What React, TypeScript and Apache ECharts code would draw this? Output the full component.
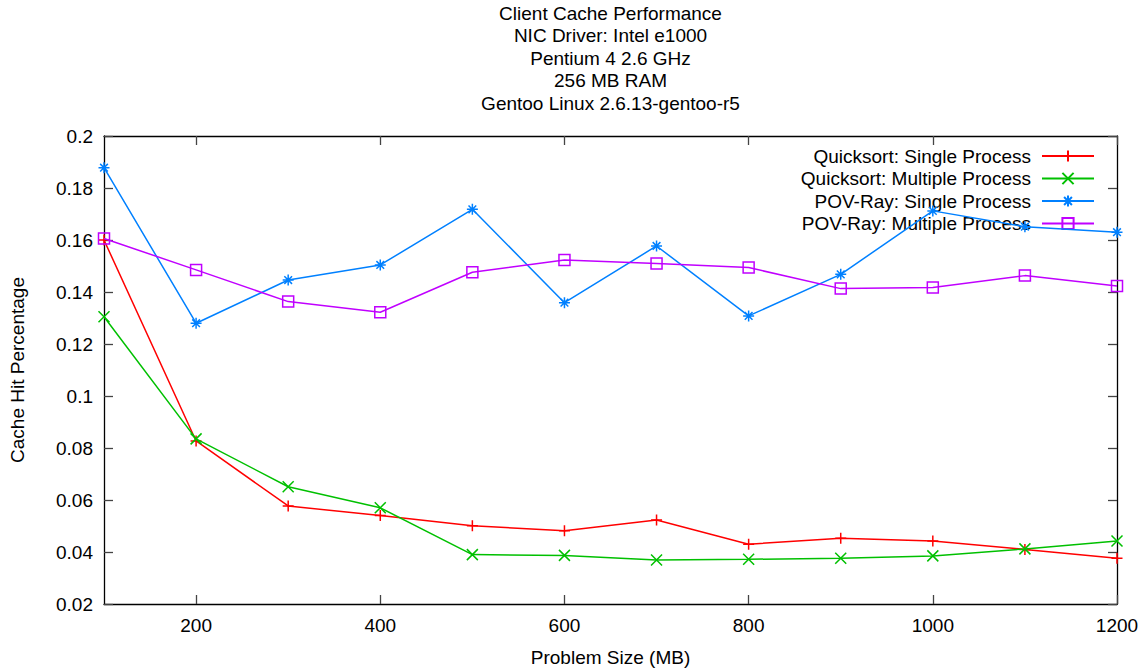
import React, { useEffect, useRef } from "react";
import * as echarts from "echarts";

const titleLines = [
  "Client Cache Performance",
  "NIC Driver: Intel e1000",
  "Pentium 4 2.6 GHz",
  "256 MB RAM",
  "Gentoo Linux 2.6.13-gentoo-r5",
];
const xName = "Problem Size (MB)";
const yName = "Cache Hit Percentage";

const problemSizes = [100, 200, 300, 400, 500, 600, 700, 800, 900, 1000, 1100, 1200];
const xTickValues = [200, 400, 600, 800, 1000, 1200];

const seriesNames = [
  "Quicksort: Single Process",
  "Quicksort: Multiple Process",
  "POV-Ray: Single Process",
  "POV-Ray: Multiple Process",
];
const quicksortSingle = [0.16, 0.0827, 0.0577, 0.054, 0.0501, 0.0482, 0.0523, 0.043, 0.0453, 0.0442, 0.041, 0.0376];
const quicksortMultiple = [0.1305, 0.0835, 0.0651, 0.057, 0.039, 0.0387, 0.0369, 0.0372, 0.0376, 0.0385, 0.0412, 0.0442];
const povraySingle = [0.1878, 0.128, 0.1446, 0.1504, 0.1718, 0.1359, 0.1577, 0.1308, 0.1468, 0.1712, 0.1651, 0.163];
const povrayMultiple = [0.1606, 0.1485, 0.1363, 0.1322, 0.1476, 0.1523, 0.151, 0.1494, 0.1413, 0.1417, 0.1463, 0.1423];

const FONT = "'Liberation Sans', Arial, Helvetica, sans-serif";
const colors = ["#ff0000", "#00c000", "#0080ff", "#c000ff"];
const symbols = [
  "path://M5,0 L5,10 M0,5 L10,5",
  "path://M0,0 L10,10 M10,0 L0,10",
  "path://M5,0 L5,10 M0,5 L10,5 M1.5,1.5 L8.5,8.5 M8.5,1.5 L1.5,8.5",
  "rect",
];

export default function App() {
  const ref = useRef<HTMLDivElement>(null);
  useEffect(() => {
    if (!ref.current) return;
    const chart = echarts.init(ref.current, null, { renderer: "svg" });
    const dataSets = [quicksortSingle, quicksortMultiple, povraySingle, povrayMultiple];
    const grid = { left: 104, top: 136, right: 29, bottom: 68 };
    const axisLineStyle = { color: "#000", width: 1.3 };
    const tickStyle = { color: "#444", width: 1.3 };
    const legendCenters = [156, 178.5, 201, 223.5];

    const option: any = {
      animation: false,
      backgroundColor: "#fff",
      grid: { ...grid, containLabel: false },
      graphic: [
        {
          type: "text",
          x: (grid.left + (1146 - grid.right)) / 2,
          y: 2,
          style: {
            text: titleLines.join("\n"),
            textAlign: "center",
            textVerticalAlign: "top",
            font: `19px ${FONT}`,
            lineHeight: 22.5,
            fill: "#000",
          },
        },
      ],
      legend: seriesNames.map((n, i) => ({
        data: [n],
        right: 51,
        top: legendCenters[i] - 10,
        padding: 0,
        align: "right",
        itemWidth: 52,
        itemHeight: 14,
        selectedMode: false,
        textStyle: { fontFamily: FONT, fontSize: 19, color: "#000", lineHeight: 20, padding: [0, 6, 0, 0] },
      })),
      xAxis: [
        {
          type: "value",
          position: "bottom",
          min: 100,
          max: 1200,
          name: xName,
          nameLocation: "middle",
          nameGap: 44,
          nameTextStyle: { fontFamily: FONT, fontSize: 19, color: "#000" },
          axisLine: { show: true, lineStyle: axisLineStyle },
          axisTick: { show: true, inside: true, length: 9, lineStyle: tickStyle, customValues: xTickValues },
          axisLabel: {
            fontFamily: FONT,
            fontSize: 19,
            color: "#000",
            margin: 12,
            customValues: xTickValues,
            formatter: (v: number) => String(v),
          },
          splitLine: { show: false },
        },
        {
          type: "value",
          position: "top",
          min: 100,
          max: 1200,
          axisLine: { show: true, lineStyle: axisLineStyle },
          axisTick: { show: true, inside: true, length: 9, lineStyle: tickStyle, customValues: xTickValues },
          axisLabel: { show: false },
          splitLine: { show: false },
        },
      ],
      yAxis: [
        {
          type: "value",
          position: "left",
          min: 0.02,
          max: 0.2,
          interval: 0.02,
          name: yName,
          nameLocation: "middle",
          nameGap: 77,
          nameTextStyle: { fontFamily: FONT, fontSize: 19, color: "#000" },
          axisLine: { show: true, lineStyle: axisLineStyle },
          axisTick: { show: true, inside: true, length: 9, lineStyle: tickStyle },
          axisLabel: {
            fontFamily: FONT,
            fontSize: 19,
            color: "#000",
            margin: 11,
            formatter: (v: number) => String(Math.round(v * 100) / 100),
          },
          splitLine: { show: false },
        },
        {
          type: "value",
          position: "right",
          min: 0.02,
          max: 0.2,
          interval: 0.02,
          axisLine: { show: true, lineStyle: axisLineStyle },
          axisTick: { show: true, inside: true, length: 9, lineStyle: tickStyle },
          axisLabel: { show: false },
          splitLine: { show: false },
        },
      ],
      series: seriesNames.map((n, i) => ({
        name: n,
        type: "line",
        xAxisIndex: 0,
        yAxisIndex: 0,
        data: problemSizes.map((x, j) => [x, dataSets[i][j]]),
        symbol: symbols[i],
        symbolSize: 11,
        showAllSymbol: true,
        lineStyle: { color: colors[i], width: 1.5 },
        itemStyle: {
          color: i === 3 ? "rgba(255,255,255,0)" : colors[i],
          borderColor: colors[i],
          borderWidth: 1.5,
        },
        emphasis: { disabled: true },
        z: 2 + i,
      })),
    };
    chart.setOption(option);
    return () => chart.dispose();
  }, []);
  return (
    <div
      ref={ref}
      style={{ position: "fixed", left: 0, top: 0, width: 1146, height: 672, background: "#fff" }}
    />
  );
}
